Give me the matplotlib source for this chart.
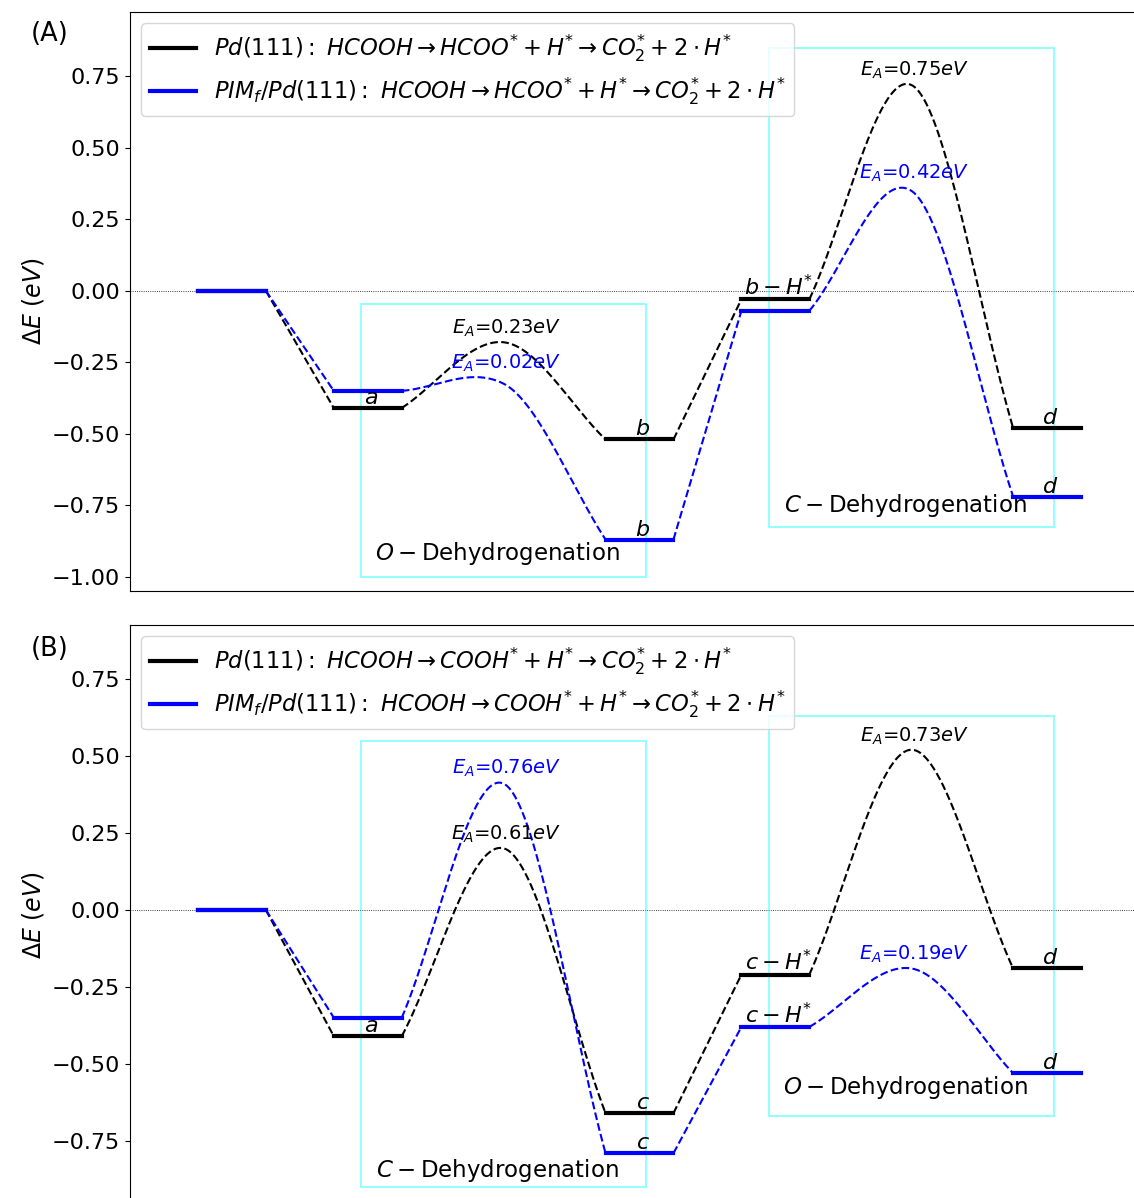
import numpy as np
import matplotlib
matplotlib.use("Agg")
import matplotlib.pyplot as plt
from matplotlib.patches import Rectangle

# energies of the intermediates (eV), transition-state heights (eV) and barrier labels
A_pd_levels = [0.00, -0.41, -0.52, -0.03, -0.48]
A_pd_ts = [-0.18, 0.72]
A_pd_ea = [0.23, 0.75]
A_pim_levels = [0.00, -0.35, -0.87, -0.07, -0.72]
A_pim_ts = [-0.325, 0.35]
A_pim_ea = [0.02, 0.42]

B_pd_levels = [0.00, -0.41, -0.66, -0.21, -0.19]
B_pd_ts = [0.20, 0.52]
B_pd_ea = [0.61, 0.73]
B_pim_levels = [0.00, -0.35, -0.79, -0.38, -0.53]
B_pim_ts = [0.41, -0.19]
B_pim_ea = [0.76, 0.19]

A_pd_names = [None, r'$a$', r'$b$', r'$b-H^{*}$', r'$d$']
A_pim_names = [None, None, r'$b$', None, r'$d$']
B_pd_names = [None, r'$a$', r'$c$', r'$c-H^{*}$', r'$d$']
B_pim_names = [None, None, r'$c$', r'$c-H^{*}$', r'$d$']

A_legend = [r'$Pd(111):\ HCOOH \rightarrow HCOO^{*} + H^{*} \rightarrow CO_2^{*} + 2 \cdot H^{*}$',
            r'$PIM_f/Pd(111):\ HCOOH \rightarrow HCOO^{*} + H^{*} \rightarrow CO_2^{*} + 2 \cdot H^{*}$']
B_legend = [r'$Pd(111):\ HCOOH \rightarrow COOH^{*} + H^{*} \rightarrow CO_2^{*} + 2 \cdot H^{*}$',
            r'$PIM_f/Pd(111):\ HCOOH \rightarrow COOH^{*} + H^{*} \rightarrow CO_2^{*} + 2 \cdot H^{*}$']

# step boxes: (label, x0, x1, y0, y1, label y)
A_boxes = [(r'$O-\mathrm{Dehydrogenation}$', 2.4, 6.6, -1.0, -0.045, -0.92),
           (r'$C-\mathrm{Dehydrogenation}$', 8.4, 12.6, -0.825, 0.85, -0.75)]
B_boxes = [(r'$C-\mathrm{Dehydrogenation}$', 2.4, 6.6, -0.9, 0.55, -0.845),
           (r'$O-\mathrm{Dehydrogenation}$', 8.4, 12.6, -0.67, 0.63, -0.578)]

starts = [0, 2, 6, 8, 12]
ts_x = [4.5, 10.5]


def hermite(xa, ya, ma, xb, yb, mb, xs):
    h = xb - xa
    t = (xs - xa) / h
    return ((2 * t**3 - 3 * t**2 + 1) * ya + (t**3 - 2 * t**2 + t) * h * ma
            + (-2 * t**3 + 3 * t**2) * yb + (t**3 - t**2) * h * mb)


def barrier(x0, e0, tx, ts, x1, e1):
    # ends follow the secant, slope at the TS is a damped mean of the two
    d1 = (ts - e0) / (tx - x0)
    d2 = (e1 - ts) / (x1 - tx)
    m = 0.7 * (d1 + d2) / 2
    xa = np.linspace(x0, tx, 100)
    xb = np.linspace(tx, x1, 100)
    xs = np.concatenate([xa, xb[1:]])
    ys = np.concatenate([hermite(x0, e0, d1, tx, ts, m, xa),
                         hermite(tx, ts, m, x1, e1, d2, xb)[1:]])
    return xs, ys


def draw(ax, levels, ts, ea, names, color, label):
    for i, (s, e) in enumerate(zip(starts, levels)):
        ax.plot([s, s + 1], [e, e], color=color, lw=3, label=label if i == 0 else None, zorder=3)
        if names[i]:
            ax.text(s + 0.55, e, names[i], ha='center', va='bottom', fontsize=16, zorder=4)
    # straight connectors
    ax.plot([1, 2], [levels[0], levels[1]], color=color, ls='--', lw=1.5)
    ax.plot([7, 8], [levels[2], levels[3]], color=color, ls='--', lw=1.5)
    # barriers
    for k, (i0, tx) in enumerate(zip([1, 3], ts_x)):
        xs, ys = barrier(starts[i0] + 1, levels[i0], tx, ts[k], starts[i0 + 1], levels[i0 + 1])
        ax.plot(xs, ys, color=color, ls='--', lw=1.5)
        ax.annotate(r'$E_A$=%.2f$eV$' % ea[k], xy=(tx, ys.max()), xytext=(2, 10),
                    textcoords='offset points', ha='center', va='center',
                    fontsize=14, color=color)


def panel(ax, pd_l, pd_ts, pd_ea, pd_n, pim_l, pim_ts, pim_ea, pim_n, leg, boxes, ylim):
    ax.axhline(0, color='k', ls=':', lw=0.6, zorder=1)
    for name, x0, x1, y0, y1, ly in boxes:
        ax.add_patch(Rectangle((x0, y0), x1 - x0, y1 - y0, fill=False,
                               edgecolor='cyan', lw=1.2, alpha=0.5))
        ax.text((x0 + x1) / 2 - 0.09, ly, name, ha='center', va='center', fontsize=16.5)
    draw(ax, pd_l, pd_ts, pd_ea, pd_n, 'k', leg[0])
    draw(ax, pim_l, pim_ts, pim_ea, pim_n, 'b', leg[1])
    ax.set_xlim(-1, 14)
    ax.set_ylim(*ylim)
    ax.set_xticks([])
    ax.set_yticks([t for t in [-1.0, -0.75, -0.5, -0.25, 0, 0.25, 0.5, 0.75] if t >= ylim[0]])
    ax.tick_params(labelsize=16)
    ax.set_ylabel(r'$\Delta E\ (eV)$', fontsize=17)
    ax.legend(loc='upper left', fontsize=16.3)


fig = plt.figure(figsize=(11.34, 11.98), dpi=100)
W, H = 1134, 1198
axA = fig.add_axes([130 / W, 1 - 591 / H, 1019 / W, 579 / H])
axB = fig.add_axes([130 / W, 1 - 1205.6 / H, 1019 / W, 580.6 / H])

panel(axA, A_pd_levels, A_pd_ts, A_pd_ea, A_pd_names, A_pim_levels, A_pim_ts, A_pim_ea,
      A_pim_names, A_legend, A_boxes, (-1.05, 0.975))
panel(axB, B_pd_levels, B_pd_ts, B_pd_ea, B_pd_names, B_pim_levels, B_pim_ts, B_pim_ea,
      B_pim_names, B_legend, B_boxes, (-0.96, 0.925))

fig.text(50 / W, 1 - 34 / H, '(A)', ha='center', va='center', fontsize=18.5)
fig.text(50 / W, 1 - 649 / H, '(B)', ha='center', va='center', fontsize=18.5)

fig.savefig('out.png', dpi=100)
